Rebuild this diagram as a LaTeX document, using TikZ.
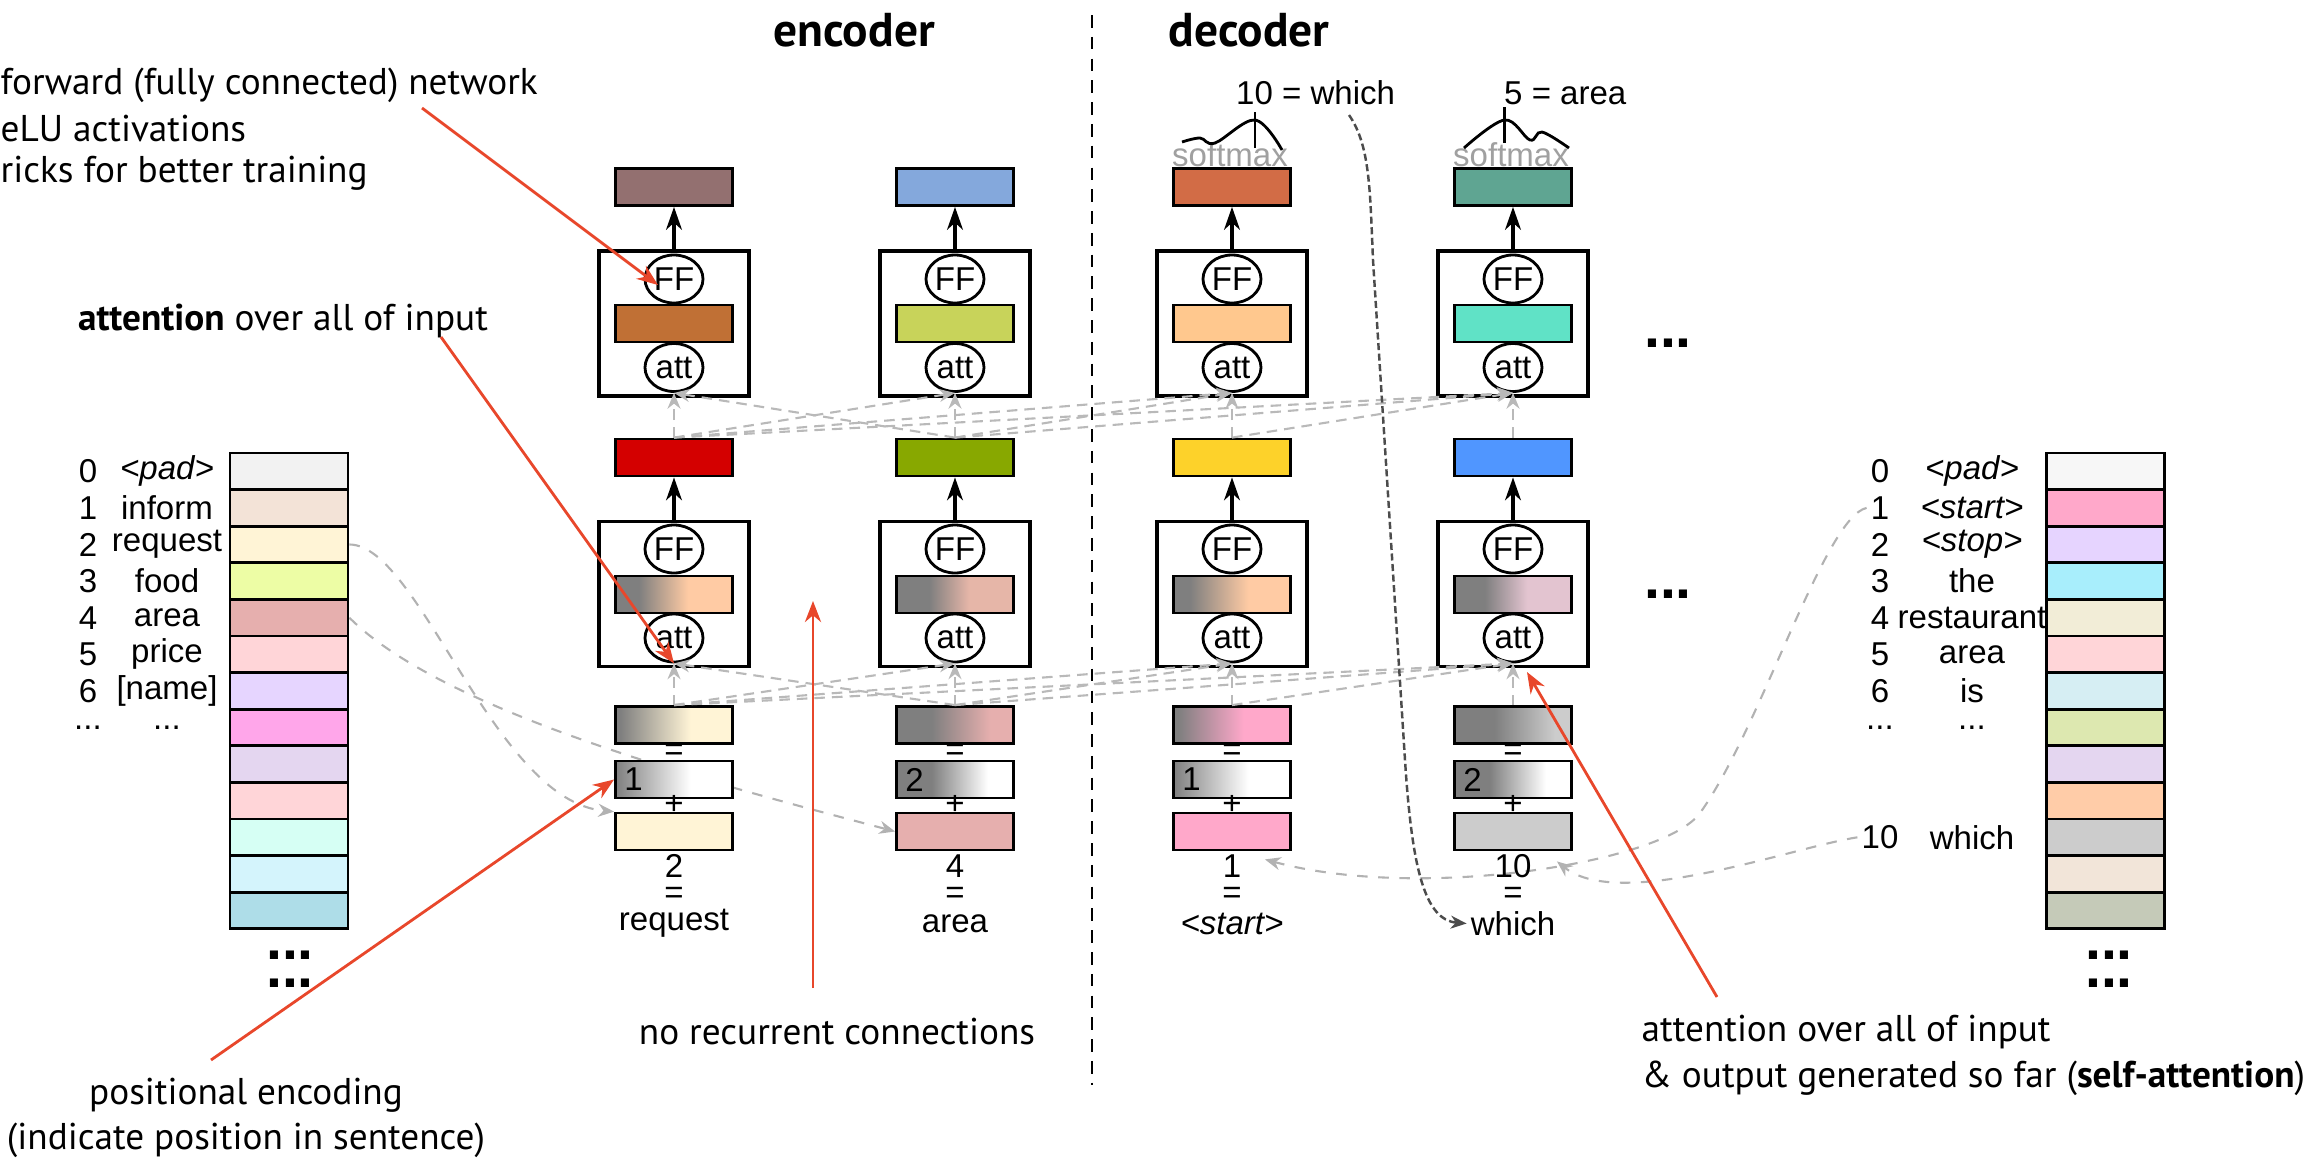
\documentclass[tikz,border=0pt]{standalone}
\usepackage{fontspec}
\setmainfont{Liberation Sans}
\newfontfamily\notefamily{PT Sans}
\usetikzlibrary{arrows.meta,positioning,shapes.geometric}

\pgfdeclarelayer{bg}
\pgfsetlayers{bg,main}

% annotation + fades
\definecolor{redline}{HTML}{E8472B}
\definecolor{fadegray}{HTML}{7F7F7F}
\definecolor{softgray}{HTML}{A0A0A0}
% input vocabulary
\definecolor{inA}{HTML}{F2F2F2}\definecolor{inB}{HTML}{F3E3D7}\definecolor{inC}{HTML}{FFF4D6}
\definecolor{inD}{HTML}{EDFDA5}\definecolor{inE}{HTML}{E6AFAE}\definecolor{inF}{HTML}{FFD5D8}
\definecolor{inG}{HTML}{E6D5FF}\definecolor{inH}{HTML}{FFA6EA}\definecolor{inI}{HTML}{E4D6F0}
\definecolor{inJ}{HTML}{FFD5D8}\definecolor{inK}{HTML}{D6FFF4}\definecolor{inL}{HTML}{D4F4FC}
\definecolor{inM}{HTML}{AEDDE8}
% output vocabulary
\definecolor{outA}{HTML}{F7F7F7}\definecolor{outB}{HTML}{FFA8CA}\definecolor{outC}{HTML}{E6D4FF}
\definecolor{outD}{HTML}{A8EEFC}\definecolor{outE}{HTML}{F2EDD7}\definecolor{outF}{HTML}{FFD5D8}
\definecolor{outG}{HTML}{D6EEF3}\definecolor{outH}{HTML}{DDE8B0}\definecolor{outI}{HTML}{E4D6F0}
\definecolor{outJ}{HTML}{FFCCA8}\definecolor{outK}{HTML}{CCCCCC}\definecolor{outL}{HTML}{F2E5D9}
\definecolor{outM}{HTML}{C5CAB8}
% columns
\definecolor{topA}{HTML}{937070}\definecolor{topB}{HTML}{84A8DC}\definecolor{topC}{HTML}{D26C46}\definecolor{topD}{HTML}{5FA592}
\definecolor{upA}{HTML}{C07035}\definecolor{upB}{HTML}{C8D35A}\definecolor{upC}{HTML}{FFC88E}\definecolor{upD}{HTML}{60E2C6}
\definecolor{midA}{HTML}{D40000}\definecolor{midB}{HTML}{88A800}\definecolor{midC}{HTML}{FDD22A}\definecolor{midD}{HTML}{5096FF}
\definecolor{lowA}{HTML}{FFCBA4}\definecolor{lowB}{HTML}{E6B6A8}\definecolor{lowC}{HTML}{FFCBA4}\definecolor{lowD}{HTML}{E3C4D0}
\colorlet{embA}{inC}\colorlet{embB}{inE}\colorlet{embC}{outB}\colorlet{embD}{outK}

\newcommand{\mkfade}[4]{\pgfdeclarehorizontalshading{#1}{100bp}{color(0bp)=(fadegray); color(#3bp)=(fadegray); color(#4bp)=(#2); color(100bp)=(#2)}}
\mkfade{lowfadeA}{lowA}{35}{56}
\mkfade{lowfadeB}{lowB}{39}{56}
\mkfade{lowfadeC}{lowC}{32}{57}
\mkfade{lowfadeD}{lowD}{38}{56}
\mkfade{sumfadeA}{inC}{27}{57}
\mkfade{sumfadeB}{inE}{40}{65}
\mkfade{sumfadeC}{outB}{27}{55}
\mkfade{sumfadeD}{outK}{42}{68}
\mkfade{posfade1}{white}{25}{57}
\mkfade{posfade2}{white}{40}{64}

\newcommand{\labelfont}{\fontsize{9.4}{11}\selectfont}
\newcommand{\notefont}{\notefamily\fontsize{10.6}{12.9}\selectfont}

\begin{document}
\begin{tikzpicture}[
	vec/.style={draw, line width=0.8pt, minimum width=1.17cm, minimum height=0.37cm, inner sep=0pt},
	block/.style={draw, line width=0.9pt, minimum width=1.5cm, minimum height=1.45cm, inner sep=0pt},
	op/.style={draw, ellipse, line width=0.8pt, fill=white, minimum width=0.58cm, minimum height=0.48cm, inner sep=0pt, font=\labelfont},
	cell/.style={draw, line width=0.8pt, minimum width=1.18cm, minimum height=0.366cm, inner sep=0pt},
	lbl/.style={font=\labelfont, inner sep=1pt},
	note/.style={font=\notefont, inner sep=0pt, align=center},
	header/.style={font=\notefamily\fontsize{13.5}{16}\selectfont\bfseries, inner sep=0pt},
	ellip/.style={font=\fontsize{16.3}{17}\selectfont\bfseries, inner sep=0pt},
	lift/.style={line width=0.9pt, -{Stealth[length=6.5pt,width=4.5pt,inset=2pt]}},
	attn/.style={gray!55, densely dashed, line width=0.6pt, -{Stealth[length=4.5pt,width=3.7pt]}},
	feed/.style={gray!60, dashed, line width=0.6pt, -{Stealth[length=4.5pt,width=3.7pt]}},
	pick/.style={black!70, dash pattern=on 2pt off 1pt, line width=0.7pt, -{Stealth[length=4.5pt,width=3.7pt]}},
	pointer/.style={redline, line width=0.8pt, -{Stealth[length=6pt,width=4.6pt]}},
	divider/.style={line width=0.7pt, dash pattern=on 3.6pt off 2.6pt}
	]
	\useasboundingbox (0,0) rectangle (23.2,-11.57);

	% encoder / decoder columns
	\foreach \i/\k/\x/\p/\n/\w in {1/A/6.74/1/2/request, 2/B/9.55/2/4/area, 3/C/12.32/1/1/{\textit{<start>}}, 4/D/15.13/2/10/which} {
		\node[vec, fill=top\k] (top\i) at (\x,-1.87) {};
		\node[block] (blkU\i) at (\x,-3.235) {};
		\node[vec, fill=up\k] (barU\i) at (\x,-3.235) {};
		\node[op] (ffU\i) at (\x,-2.79) {FF};
		\node[op] (attU\i) at (\x,-3.675) {att};
		\node[vec, fill=mid\k] (mid\i) at (\x,-4.575) {};
		\node[block] (blkL\i) at (\x,-5.94) {};
		\node[vec, shade, shading=lowfade\k] (barL\i) at (\x,-5.945) {};
		\node[op] (ffL\i) at (\x,-5.49) {FF};
		\node[op] (attL\i) at (\x,-6.38) {att};
		\node[vec, shade, shading=sumfade\k] (sum\i) at (\x,-7.25) {};
		\node[vec, shade, shading=posfade\p] (pos\i) at (\x,-7.795) {};
		\node[lbl, right=0.06cm of pos\i.west] (posnum\i) {\p};
		\node[vec, fill=emb\k] (emb\i) at (\x,-8.315) {};
		\node[lbl] (eqS\i) at (\x,-7.52) {=};
		\node[lbl] (plus\i) at (\x,-8.05) {+};
		\node[lbl] (num\i) at (\x,-8.66) {\n};
		\node[lbl] (eqW\i) at (\x,-8.955) {=};
		\node[lbl] (word\i) at (\x,-9.235) {\w};
		\draw[lift] (blkU\i.north) -- (top\i.south);
		\draw[lift] (blkL\i.north) -- (mid\i.south);
	}

	% attention inputs
	\foreach \j in {1,2}
		\foreach \i in {1,2} {
			\draw[attn] (mid\i.north) -- (attU\j.south);
			\draw[attn] (sum\i.north) -- (attL\j.south);
		}
	\foreach \j in {3,4}
		\foreach \i in {1,...,\j} {
			\draw[attn] (mid\i.north) -- (attU\j.south);
			\draw[attn] (sum\i.north) -- (attL\j.south);
		}

	% softmax outputs
	\node[lbl, anchor=west] (out3) at (12.32,-0.93) {10 = which};
	\node[lbl, anchor=west] (out4) at (15.00,-0.93) {5 = area};
	\node[lbl, text=softgray] (soft3) at (12.30,-1.55) {softmax};
	\node[lbl, text=softgray] (soft4) at (15.11,-1.55) {softmax};
	\draw[line width=0.8pt] plot[smooth, tension=0.6] coordinates {(11.82,-1.42) (12.00,-1.38) (12.15,-1.43) (12.55,-1.20) (12.82,-1.50)};
	\draw[line width=0.8pt] (12.55,-1.12) -- (12.55,-1.48);
	\draw[line width=0.8pt] plot[smooth, tension=0.6] coordinates {(14.64,-1.48) (15.045,-1.20) (15.30,-1.40) (15.42,-1.32) (15.69,-1.48)};
	\draw[line width=0.8pt] (15.045,-1.07) -- (15.045,-1.43);

	\node[ellip] (moreU) at (16.68,-3.43) {...};
	\node[ellip] (moreL) at (16.68,-5.94) {...};

	% input vocabulary
	\foreach \c [count=\r from 0] in {inA,inB,inC,inD,inE,inF,inG,inH,inI,inJ,inK,inL,inM}
		\node[cell, fill=\c] (tl\r) at (2.89,{-4.713-0.366*\r}) {};
	\node[lbl] (lnum0) at (0.88,-4.713) {0};
	\node[lbl] (lword0) at (1.67,-4.713) {\textit{<pad>}};
	\node[lbl] (lnum1) at (0.88,-5.079) {1};
	\node[lbl] (lword1) at (1.67,-5.079) {inform};
	\node[lbl] (lnum2) at (0.88,-5.445) {2};
	\node[lbl] (lword2) at (1.67,-5.445) {request};
	\node[lbl] (lnum3) at (0.88,-5.811) {3};
	\node[lbl] (lword3) at (1.67,-5.811) {food};
	\node[lbl] (lnum4) at (0.88,-6.177) {4};
	\node[lbl] (lword4) at (1.67,-6.177) {area};
	\node[lbl] (lnum5) at (0.88,-6.543) {5};
	\node[lbl] (lword5) at (1.67,-6.543) {price};
	\node[lbl] (lnum6) at (0.88,-6.909) {6};
	\node[lbl] (lword6) at (1.67,-6.909) {[name]};
	\node[lbl] (lnum7) at (0.88,-7.275) {...};
	\node[lbl] (lword7) at (1.67,-7.275) {...};
	\node[ellip] (lmoreA) at (2.90,-9.55) {...};
	\node[ellip] (lmoreB) at (2.90,-9.83) {...};

	% output vocabulary
	\foreach \c [count=\r from 0] in {outA,outB,outC,outD,outE,outF,outG,outH,outI,outJ,outK,outL,outM}
		\node[cell, fill=\c] (tr\r) at (21.055,{-4.713-0.366*\r}) {};
	\node[lbl] (rnum0) at (18.80,-4.713) {0};
	\node[lbl] (rword0) at (19.72,-4.713) {\textit{<pad>}};
	\node[lbl] (rnum1) at (18.80,-5.079) {1};
	\node[lbl] (rword1) at (19.72,-5.079) {\textit{<start>}};
	\node[lbl] (rnum2) at (18.80,-5.445) {2};
	\node[lbl] (rword2) at (19.72,-5.445) {\textit{<stop>}};
	\node[lbl] (rnum3) at (18.80,-5.811) {3};
	\node[lbl] (rword3) at (19.72,-5.811) {the};
	\node[lbl] (rnum4) at (18.80,-6.177) {4};
	\node[lbl] (rword4) at (19.72,-6.177) {restaurant};
	\node[lbl] (rnum5) at (18.80,-6.543) {5};
	\node[lbl] (rword5) at (19.72,-6.543) {area};
	\node[lbl] (rnum6) at (18.80,-6.909) {6};
	\node[lbl] (rword6) at (19.72,-6.909) {is};
	\node[lbl] (rnum7) at (18.80,-7.275) {...};
	\node[lbl] (rword7) at (19.72,-7.275) {...};
	\node[lbl] (rnum10) at (18.80,-8.373) {10};
	\node[lbl] (rword10) at (19.72,-8.373) {which};
	\node[ellip] (rmoreA) at (21.09,-9.55) {...};
	\node[ellip] (rmoreB) at (21.09,-9.83) {...};

	% token lookups
	\begin{pgfonlayer}{bg}
		\draw[feed] (tl2.east) .. controls +(0.7,0) and +(-1.2,0.1) .. (emb1.north west);
		\draw[feed] (tl4.east) .. controls +(1.0,-1.0) and +(-1.5,0.4) .. (emb2.west);
		\draw[feed] (rnum1.west) .. controls +(-0.42,-0.09) and +(0.6,0.83) .. (17.0,-8.13)
			.. controls +(-0.36,-0.5) and +(1.55,-0.42) .. ([shift={(-0.27,-0.08)}]emb3.south east);
		\draw[feed] (rnum10.west) .. controls +(-0.65,-0.1) and +(0.63,-0.5) .. ([shift={(-0.16,-0.10)}]emb4.south east);
	\end{pgfonlayer}
	\coordinate (pickstart) at (13.49,-1.15);
	\draw[pick] (pickstart) .. controls (13.70,-1.45) and (13.70,-1.90) .. (13.73,-2.60) -- (14.05,-7.60)
		.. controls (14.12,-8.70) and (14.25,-9.20) .. (word4.west);

	% encoder | decoder
	\draw[divider] (10.92,-0.15) -- (10.92,-10.85);
	\node[header] (enchead) at (8.54,-0.30) {encoder};
	\node[header] (dechead) at (12.49,-0.30) {decoder};

	% notes
	\node[note, anchor=west] (ffnote1) at (0,-0.85) {forward (fully connected) network};
	\node[note, anchor=west] (ffnote2) at (0,-1.29) {eLU activations};
	\node[note, anchor=west] (ffnote3) at (0,-1.73) {ricks for better training};
	\node[note] (attnote) at (2.83,-3.21) {\textbf{attention} over all of input};
	\node[note] (posnote) at (2.46,-11.18) {positional encoding\\(indicate position in sentence)};
	\node[note] (recnote) at (8.37,-10.32) {no recurrent connections};
	\node[note, align=left, anchor=west] (selfnote) at (16.41,-10.555) {attention over all of input\\\& output generated so far (\textbf{self-attention})};

	\coordinate (ffnoteend) at (4.22,-1.08);
	\coordinate (attnoteend) at (4.41,-3.37);
	\coordinate (posnoteend) at (2.11,-10.60);
	\coordinate (recnoteend) at (8.13,-9.88);
	\coordinate (recgap) at (8.13,-6.01);
	\coordinate (selfnoteend) at (17.17,-9.97);
	\coordinate (selfgap) at (15.27,-6.72);
	\draw[pointer] (ffnoteend) -- ([shift={(-0.16,-0.06)}]ffU1.center);
	\draw[pointer] (attnoteend) -- (attL1.south);
	\draw[pointer] (posnoteend) -- (pos1.west);
	\draw[pointer] (recnoteend) -- (recgap);
	\draw[pointer] (selfnoteend) -- (selfgap);
\end{tikzpicture}
\end{document}
